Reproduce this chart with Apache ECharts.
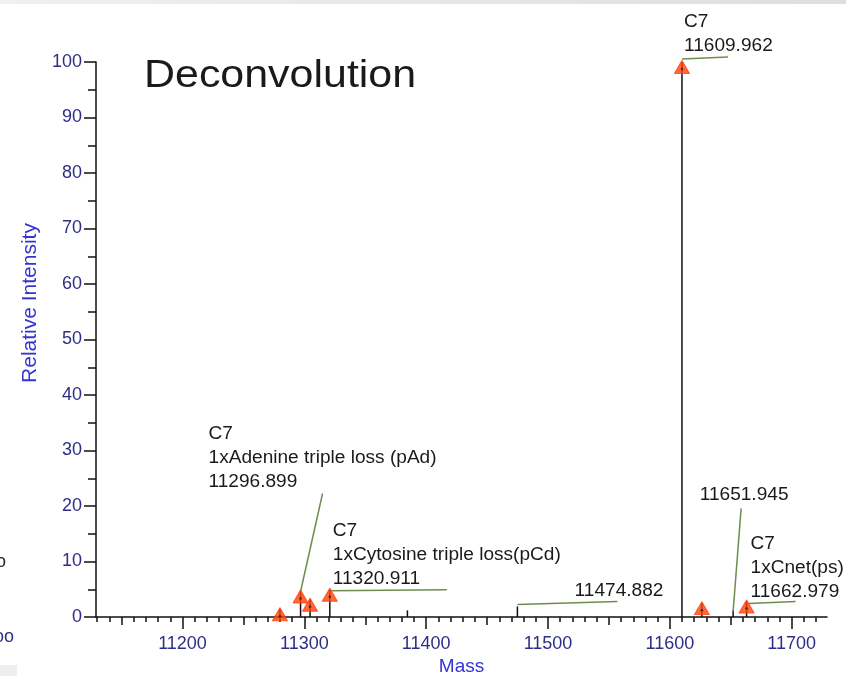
<!DOCTYPE html>
<html>
<head>
<meta charset="utf-8" />
<title>Deconvolution</title>
<script src="https://cdn.jsdelivr.net/npm/echarts@6/dist/echarts.min.js"></script>
<style>
  html, body { margin: 0; padding: 0; background: #fff; }
  #chart { width: 846px; height: 676px; }
</style>
</head>
<body>
<div id="chart"></div>
<script>
// all sticks of the deconvoluted spectrum
const peakMass = [11280.0, 11296.899, 11304.7, 11320.911, 11384.6, 11474.882, 11609.962, 11626.3, 11651.945, 11662.979];
const peakIntensity = [1.4, 4.6, 3.1, 4.9, 1.2, 1.9, 100, 2.5, 1.2, 2.8];

// peaks flagged with a triangle
const flaggedMass = [11280.0, 11296.899, 11304.7, 11320.911, 11609.962, 11626.3, 11662.979];
const flaggedIntensity = [1.4, 4.6, 3.1, 4.9, 100, 2.5, 2.8];

// annotated peaks
const annotMass = [11296.899, 11320.911, 11474.882, 11609.962, 11651.945, 11662.979];
const annotIntensity = [4.6, 4.9, 1.9, 100, 1.2, 2.8];
const annotText = [
  "C7\n1xAdenine triple loss (pAd)\n11296.899",
  "C7\n1xCytosine triple loss(pCd)\n11320.911",
  "11474.882",
  "C7\n11609.962",
  "11651.945",
  "C7\n1xCnet(ps)\n11662.979"
];

const massTicks = [11200, 11300, 11400, 11500, 11600, 11700];
const intensityTicks = [0, 10, 20, 30, 40, 50, 60, 70, 80, 90, 100];

// pixel offsets of leader lines / texts from the peak top
const annotLayout = [
  { line: [0, 0, 22, -98], text: [-92, -97], align: "left" },
  { line: [0, 1, 117, 0], text: [3, 1], align: "left" },
  { line: [0, -2, 100, -5], text: [146, -3], align: "right" },
  { line: [0, -3, 46, -5], text: [2, -4], align: "left" },
  { line: [0, 1, 8, -102], text: [11, -103], align: "center" },
  { line: [2, 2, 49, 0], text: [4, 3], align: "left" }
];

const massMin = 11129;
const massMax = 11729;
const axisColor = "#111";
const tickLabelColor = "#2e2e86";
const nameColor = "#3434d2";
const fontFamily = "Liberation Sans, Arial, sans-serif";

const halfTicks = [];
const minorTicks = [];
for (let v = 11130; v <= 11720; v += 10) {
  if (v % 100 === 50) halfTicks.push(v);
  else if (v % 100 !== 0) minorTicks.push(v);
}

function extraXAxis(ticks, len) {
  return {
    type: "value",
    min: massMin,
    max: massMax,
    position: "bottom",
    offset: 0,
    axisLine: { show: false },
    axisTick: { show: true, customValues: ticks, length: len, lineStyle: { color: axisColor, width: 1.5 } },
    axisLabel: { show: false },
    splitLine: { show: false }
  };
}

const chart = echarts.init(document.getElementById("chart"));

chart.setOption({
  animation: false,
  backgroundColor: "#fff",
  grid: { left: 96, right: 19, top: 62, bottom: 59, outerBoundsMode: "none", containLabel: false },
  graphic: [
    {
      type: "rect",
      shape: { x: 0, y: 0, width: 846, height: 4 },
      style: {
        fill: new echarts.graphic.LinearGradient(0, 0, 1, 0, [
          { offset: 0, color: "#f0f0f0" },
          { offset: 1, color: "#dedede" }
        ])
      }
    },
    { type: "rect", shape: { x: 0, y: 665, width: 17, height: 11 }, style: { fill: "#eeeeee" } },
    { type: "text", x: -4, y: 562, style: { text: "o", fill: "#222", fontSize: 18, fontFamily: fontFamily, verticalAlign: "middle" } },
    { type: "text", x: -6, y: 637, style: { text: "oo", fill: tickLabelColor, fontSize: 18, fontFamily: fontFamily, verticalAlign: "middle" } },
    {
      type: "text",
      x: 144,
      y: 77,
      scaleX: 1.13,
      style: { text: "Deconvolution", fill: "#1a1a1a", fontSize: 38, fontFamily: fontFamily, verticalAlign: "middle" }
    },
    // y axis title sits above the middle of the axis in the original
    {
      type: "text",
      x: 30,
      y: 303,
      rotation: Math.PI / 2,
      style: {
        text: "Relative Intensity",
        fill: nameColor,
        fontSize: 21,
        fontFamily: fontFamily,
        align: "center",
        verticalAlign: "middle"
      }
    }
  ],
  xAxis: [
    {
      type: "value",
      min: massMin,
      max: massMax,
      position: "bottom",
      name: "Mass",
      nameLocation: "middle",
      nameGap: 40,
      nameMoveOverlap: false,
      nameTextStyle: { color: nameColor, fontSize: 19, fontFamily: fontFamily },
      axisLine: { show: true, onZero: false, lineStyle: { color: axisColor, width: 1.5 } },
      axisTick: { show: true, customValues: massTicks, length: 12, lineStyle: { color: axisColor, width: 1.5 } },
      axisLabel: {
        customValues: massTicks,
        formatter: (v) => String(v),
        color: tickLabelColor,
        fontSize: 18,
        fontFamily: fontFamily,
        margin: 18
      },
      splitLine: { show: false }
    },
    extraXAxis(halfTicks, 8),
    extraXAxis(minorTicks, 5)
  ],
  yAxis: {
    type: "value",
    min: intensityTicks[0],
    max: intensityTicks[intensityTicks.length - 1],
    interval: intensityTicks[1] - intensityTicks[0],
    axisLine: { show: true, lineStyle: { color: axisColor, width: 1.5 } },
    axisTick: { show: true, length: 12, lineStyle: { color: axisColor, width: 1.5 } },
    minorTick: { show: true, splitNumber: 2, length: 8, lineStyle: { color: axisColor, width: 1.5 } },
    axisLabel: { color: tickLabelColor, fontSize: 18, fontFamily: fontFamily, margin: 14 },
    splitLine: { show: false }
  },
  series: [
    {
      name: "sticks",
      type: "custom",
      clip: false,
      silent: true,
      data: peakMass.map((m, i) => [m, peakIntensity[i]]),
      renderItem(params, api) {
        const top = api.coord([api.value(0), api.value(1)]);
        const base = api.coord([api.value(0), 0]);
        return {
          type: "line",
          shape: { x1: base[0], y1: base[1], x2: top[0], y2: top[1] },
          style: { stroke: "#111", lineWidth: 1.5 }
        };
      }
    },
    {
      name: "annotations",
      type: "custom",
      clip: false,
      silent: true,
      z: 3,
      data: annotMass.map((m, i) => [m, annotIntensity[i]]),
      renderItem(params, api) {
        const i = params.dataIndex;
        const p = api.coord([api.value(0), api.value(1)]);
        const lay = annotLayout[i];
        return {
          type: "group",
          children: [
            {
              type: "line",
              shape: {
                x1: p[0] + lay.line[0],
                y1: p[1] + lay.line[1],
                x2: p[0] + lay.line[2],
                y2: p[1] + lay.line[3]
              },
              style: { stroke: "#6f8d4f", lineWidth: 1.5 }
            },
            {
              type: "text",
              x: p[0] + lay.text[0],
              y: p[1] + lay.text[1],
              scaleX: 1.06,
              style: {
                text: annotText[i],
                fill: "#1a1a1a",
                fontSize: 18,
                fontFamily: fontFamily,
                lineHeight: 24,
                align: lay.align,
                verticalAlign: "bottom"
              }
            }
          ]
        };
      }
    },
    {
      name: "flags",
      type: "scatter",
      silent: true,
      z: 4,
      symbol: "triangle",
      symbolSize: [15, 13],
      symbolOffset: [0, 5],
      itemStyle: { color: "#ff420a", borderColor: "#ff420a", borderWidth: 1, borderJoin: "round" },
      data: flaggedMass.map((m, i) => [m, flaggedIntensity[i]])
    },
    {
      name: "flagDots",
      type: "scatter",
      silent: true,
      z: 5,
      symbol: "circle",
      symbolSize: 2.5,
      symbolOffset: [0, 7],
      itemStyle: { color: "#222" },
      data: flaggedMass.map((m, i) => [m, flaggedIntensity[i]])
    }
  ]
});
</script>
</body>
</html>
